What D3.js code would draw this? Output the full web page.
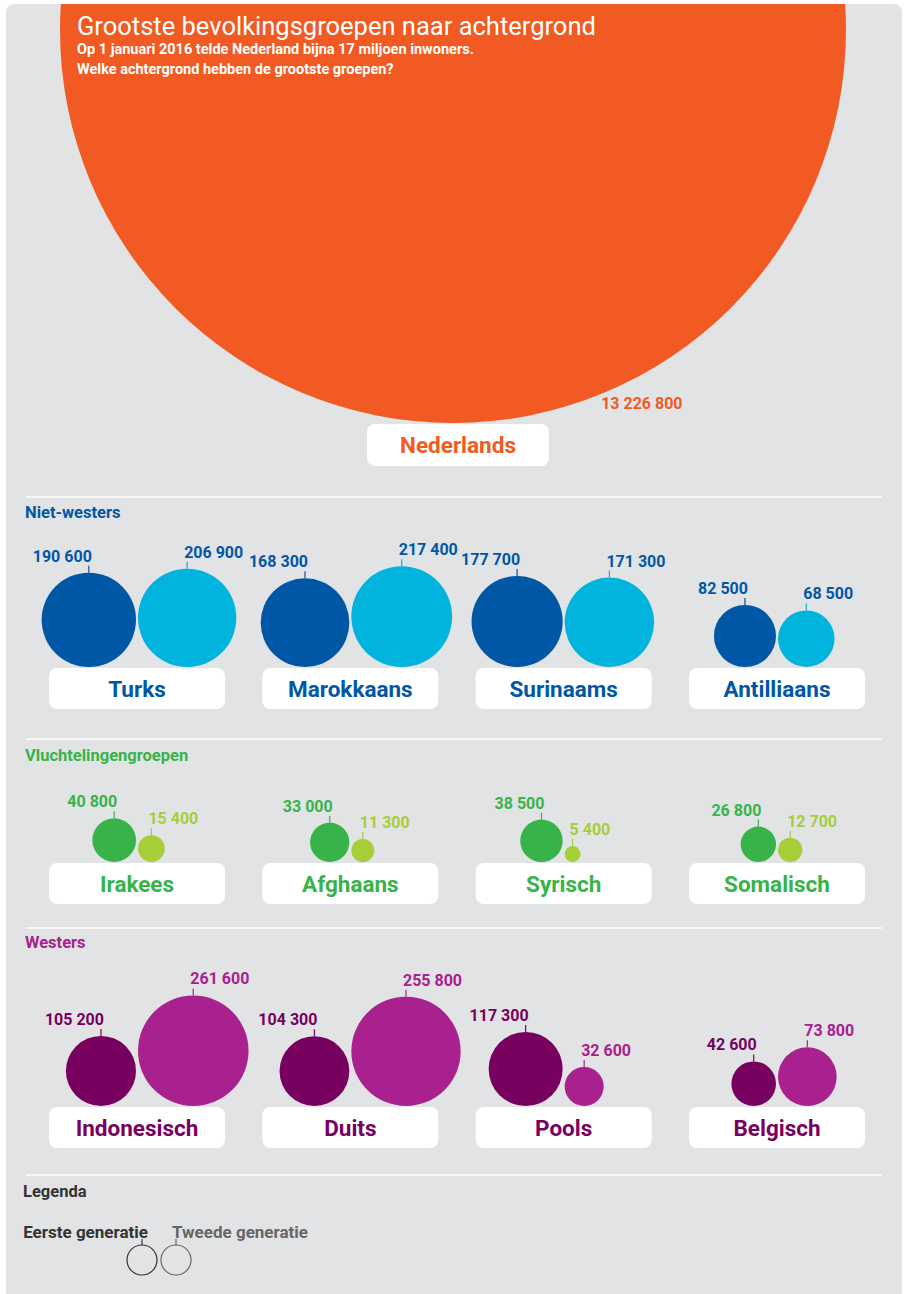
<!DOCTYPE html>
<html>
<head>
<meta charset="utf-8">
<script src="https://cdn.jsdelivr.net/npm/d3@7"></script>
<style>
  body { margin: 0; background: #fff; }
  svg { display: block; font-family: Roboto, "Noto Sans", sans-serif; }
</style>
</head>
<body>
<svg id="chart" width="905" height="1294"></svg>
<script>
// data
var nederlands = 13226800;
var groepen = ["Niet-westers", "Vluchtelingengroepen", "Westers"];
var herkomst = ["Turks", "Marokkaans", "Surinaams", "Antilliaans",
                "Irakees", "Afghaans", "Syrisch", "Somalisch",
                "Indonesisch", "Duits", "Pools", "Belgisch"];
var groepVan = ["Niet-westers", "Niet-westers", "Niet-westers", "Niet-westers",
                "Vluchtelingengroepen", "Vluchtelingengroepen", "Vluchtelingengroepen", "Vluchtelingengroepen",
                "Westers", "Westers", "Westers", "Westers"];
var eersteGeneratie = [190600, 168300, 177700, 82500, 40800, 33000, 38500, 26800, 105200, 104300, 117300, 42600];
var tweedeGeneratie = [206900, 217400, 171300, 68500, 15400, 11300, 5400, 12700, 261600, 255800, 32600, 73800];
var legendaItems = ["Eerste generatie", "Tweede generatie"];

// colours per group: [eerste, tweede, label-eerste, label-tweede, naam]
var kleuren = {
  "Niet-westers":         ["#0057a5", "#00b4dd", "#0057a5", "#0057a5", "#0057a5"],
  "Vluchtelingengroepen": ["#37b34a", "#a6ce39", "#37b34a", "#a6ce39", "#37b34a"],
  "Westers":              ["#78005e", "#a8218e", "#78005e", "#a8218e", "#78005e"]
};
var kopKleur = {"Niet-westers": "#0057a5", "Vluchtelingengroepen": "#37b34a", "Westers": "#a8218e"};
var oranje = "#f15a22";

var svg = d3.select("#chart");
var fmt = d3.formatLocale({decimal: ",", thousands: " ", grouping: [3], currency: ["", ""]}).format(",d");

// area-proportional radius
var r = d3.scaleSqrt().domain([0, nederlands]).range([0, 393]);

// columns for the groups of four
var x = d3.scaleBand().domain(d3.range(4)).range([49, 865]).paddingInner(0.175);
var rowBase = d3.scaleOrdinal().domain(groepen).range([667, 862, 1106]);
var kopY = d3.scaleOrdinal().domain(groepen).range([518, 761, 948]);
var lijnY = [497, 739, 928, 1175];

// panel
var defs = svg.append("defs");
defs.append("clipPath").attr("id", "panel")
  .append("rect").attr("x", 6).attr("y", 4).attr("width", 896).attr("height", 1310).attr("rx", 8);

var g = svg.append("g").attr("clip-path", "url(#panel)");
g.append("rect").attr("x", 6).attr("y", 4).attr("width", 896).attr("height", 1310).attr("fill", "#e2e3e5");

// Nederlands
var nlCx = 453, nlCy = 30, nlR = r(nederlands);
g.append("circle").attr("cx", nlCx).attr("cy", nlCy).attr("r", nlR).attr("fill", oranje);

g.append("text").attr("x", 77).attr("y", 35).attr("fill", "#fff")
  .style("font-size", "25.5px").text("Grootste bevolkingsgroepen naar achtergrond");
g.append("text").attr("x", 77).attr("y", 54).attr("fill", "#fff")
  .style("font-size", "14.5px").style("font-weight", "bold")
  .text("Op 1 januari 2016 telde Nederland bijna 17 miljoen inwoners.");
g.append("text").attr("x", 77).attr("y", 74).attr("fill", "#fff")
  .style("font-size", "14.5px").style("font-weight", "bold")
  .text("Welke achtergrond hebben de grootste groepen?");

g.append("text").attr("x", nlCx + nlR * 0.377).attr("y", nlCy + nlR - 14)
  .attr("fill", oranje).style("font-size", "16px").style("font-weight", "bold")
  .text(fmt(nederlands));

g.append("rect").attr("x", 458 - 91).attr("y", nlCy + nlR + 1).attr("width", 182).attr("height", 42)
  .attr("rx", 8).attr("fill", "#fff");
g.append("text").attr("x", 458).attr("y", nlCy + nlR + 22).attr("dy", "0.36em")
  .attr("text-anchor", "middle").attr("fill", oranje)
  .style("font-size", "22.5px").style("font-weight", "bold").text("Nederlands");

// separators
g.selectAll(".sep").data(lijnY).enter().append("line")
  .attr("class", "sep")
  .attr("x1", 26).attr("x2", 882)
  .attr("y1", function(d) { return d; }).attr("y2", function(d) { return d; })
  .attr("stroke", "#fff").attr("stroke-width", 1.5);

// group headings
g.selectAll(".kop").data(groepen).enter().append("text")
  .attr("class", "kop")
  .attr("x", 25).attr("y", function(d) { return kopY(d); })
  .attr("fill", function(d) { return kopKleur[d]; })
  .style("font-size", "16.5px").style("font-weight", "bold")
  .text(function(d) { return d; });

// build rows
var data = herkomst.map(function(h, i) {
  return {naam: h, groep: groepVan[i], col: i % 4, eerste: eersteGeneratie[i], tweede: tweedeGeneratie[i]};
});

var cat = g.selectAll(".cat").data(data).enter().append("g")
  .attr("class", "cat")
  .attr("transform", function(d) { return "translate(" + (x(d.col) + x.bandwidth() / 2) + "," + rowBase(d.groep) + ")"; });

cat.append("rect")
  .attr("x", -x.bandwidth() / 2).attr("y", 1)
  .attr("width", x.bandwidth()).attr("height", 41)
  .attr("rx", 8).attr("fill", "#fff");

cat.append("text")
  .attr("y", 21.5).attr("dy", "0.37em")
  .attr("text-anchor", "middle")
  .attr("fill", function(d) { return kleuren[d.groep][4]; })
  .style("font-size", "22.5px").style("font-weight", "bold")
  .text(function(d) { return d.naam; });

function bubbles(key, idx) {
  var sel = cat.append("g").attr("transform", function(d) {
    var rr = r(d[key]);
    var cx = idx === 0 ? -rr - 1 : rr + 1;
    return "translate(" + cx + "," + (-rr) + ")";
  });
  sel.append("circle")
    .attr("r", function(d) { return r(d[key]); })
    .attr("fill", function(d) { return kleuren[d.groep][idx]; });
  sel.append("line")
    .attr("y1", function(d) { return -r(d[key]); })
    .attr("y2", function(d) { return -r(d[key]) - 7; })
    .attr("stroke", function(d) { return kleuren[d.groep][idx]; })
    .attr("stroke-width", 1.2);
  sel.append("text")
    .attr("x", idx === 0 ? 3 : -3)
    .attr("y", function(d) { return -r(d[key]) - 11; })
    .attr("text-anchor", idx === 0 ? "end" : "start")
    .attr("fill", function(d) { return kleuren[d.groep][idx + 2]; })
    .style("font-size", "16px").style("font-weight", "bold")
    .text(function(d) { return fmt(d[key]); });
}
bubbles("eerste", 0);
bubbles("tweede", 1);

// legend
g.append("text").attr("x", 23).attr("y", 1197).attr("fill", "#333")
  .style("font-size", "16.5px").style("font-weight", "bold").text("Legenda");

var legR = 15;
var leg = g.selectAll(".leg").data(legendaItems).enter().append("g")
  .attr("class", "leg")
  .attr("transform", function(d, i) { return "translate(" + (159 + (i === 0 ? -legR - 2 : legR + 2)) + ",1260)"; });
leg.append("circle").attr("r", legR).attr("fill", "none")
  .attr("stroke", function(d, i) { return i === 0 ? "#333" : "#666"; }).attr("stroke-width", 1.2);
leg.append("line").attr("y1", -legR).attr("y2", -legR - 6)
  .attr("stroke", function(d, i) { return i === 0 ? "#333" : "#666"; }).attr("stroke-width", 1.2);
leg.append("text")
  .attr("x", function(d, i) { return i === 0 ? 6 : -4; })
  .attr("y", -22)
  .attr("text-anchor", function(d, i) { return i === 0 ? "end" : "start"; })
  .attr("fill", function(d, i) { return i === 0 ? "#333" : "#666"; })
  .style("font-size", "17px").style("font-weight", "bold")
  .text(function(d) { return d; });
</script>
</body>
</html>
